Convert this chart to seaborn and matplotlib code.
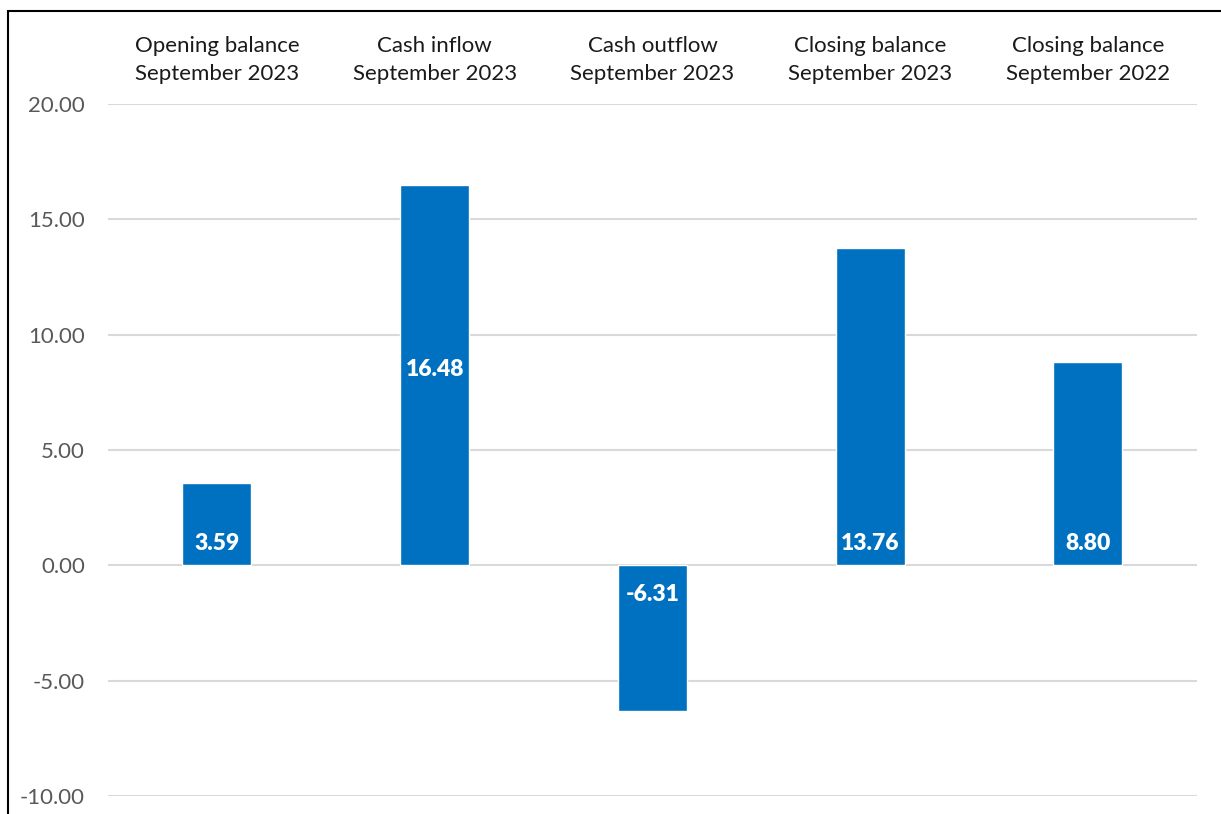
import matplotlib
matplotlib.use("Agg")
import matplotlib.pyplot as plt
import seaborn as sns
import pandas as pd
from matplotlib.patches import Rectangle

categories = ["Opening balance\nSeptember 2023", "Cash inflow\nSeptember 2023",
              "Cash outflow\nSeptember 2023", "Closing balance\nSeptember 2023",
              "Closing balance\nSeptember 2022"]
values = [3.59, 16.48, -6.31, 13.76, 8.80]
label_pos = ["base", "center", "base", "base", "base"]

sns.set_style("white")
plt.rcParams["font.family"] = ["Lato", "DejaVu Sans"]

df = pd.DataFrame({"category": categories, "value": values})

fig = plt.figure(figsize=(12.21, 8.14), dpi=100)
ax = fig.add_axes([0.0885, 0.0221, 0.8917, 0.8501])
sns.barplot(data=df, x="category", y="value", color="#0070C0", saturation=1,
            width=0.317, ax=ax, zorder=3)

ax.set_ylim(-10, 20)
ax.set_yticks(range(-10, 21, 5))
ax.set_yticklabels([f"{v:.2f}" for v in range(-10, 21, 5)])
ax.yaxis.grid(True, color="#d9d9d9", linewidth=1.5, zorder=0)
ax.set_axisbelow(True)
for s in ax.spines.values():
    s.set_visible(False)
ax.set_xlabel("")
ax.set_ylabel("")
ax.xaxis.tick_top()
ax.tick_params(axis="x", length=0, pad=14.7, labelsize=16, labelcolor="#1a1a1a")
ax.tick_params(axis="y", length=0, pad=16.6, labelsize=16, labelcolor="#595959")
for t in ax.get_xticklabels():
    t.set_linespacing(1.45)

for i, (v, pos) in enumerate(zip(values, label_pos)):
    if pos == "center":
        ax.annotate(f"{v:.2f}", (i, v / 2), ha="center", va="center",
                    color="white", fontweight="heavy", fontsize=16.5,
                    xytext=(0, 4), textcoords="offset points")
    else:
        off = 16 if v >= 0 else -21
        ax.annotate(f"{v:.2f}", (i, 0), ha="center", va="center",
                    color="white", fontweight="heavy", fontsize=16.5,
                    xytext=(0, off), textcoords="offset points")

fig.patches.append(Rectangle((8 / 1221, -0.1), 1.2, 1 - 11 / 814 + 0.1,
                             transform=fig.transFigure, fill=False,
                             edgecolor="black", linewidth=1.5))

fig.savefig("out.png", dpi=100, facecolor="white")
